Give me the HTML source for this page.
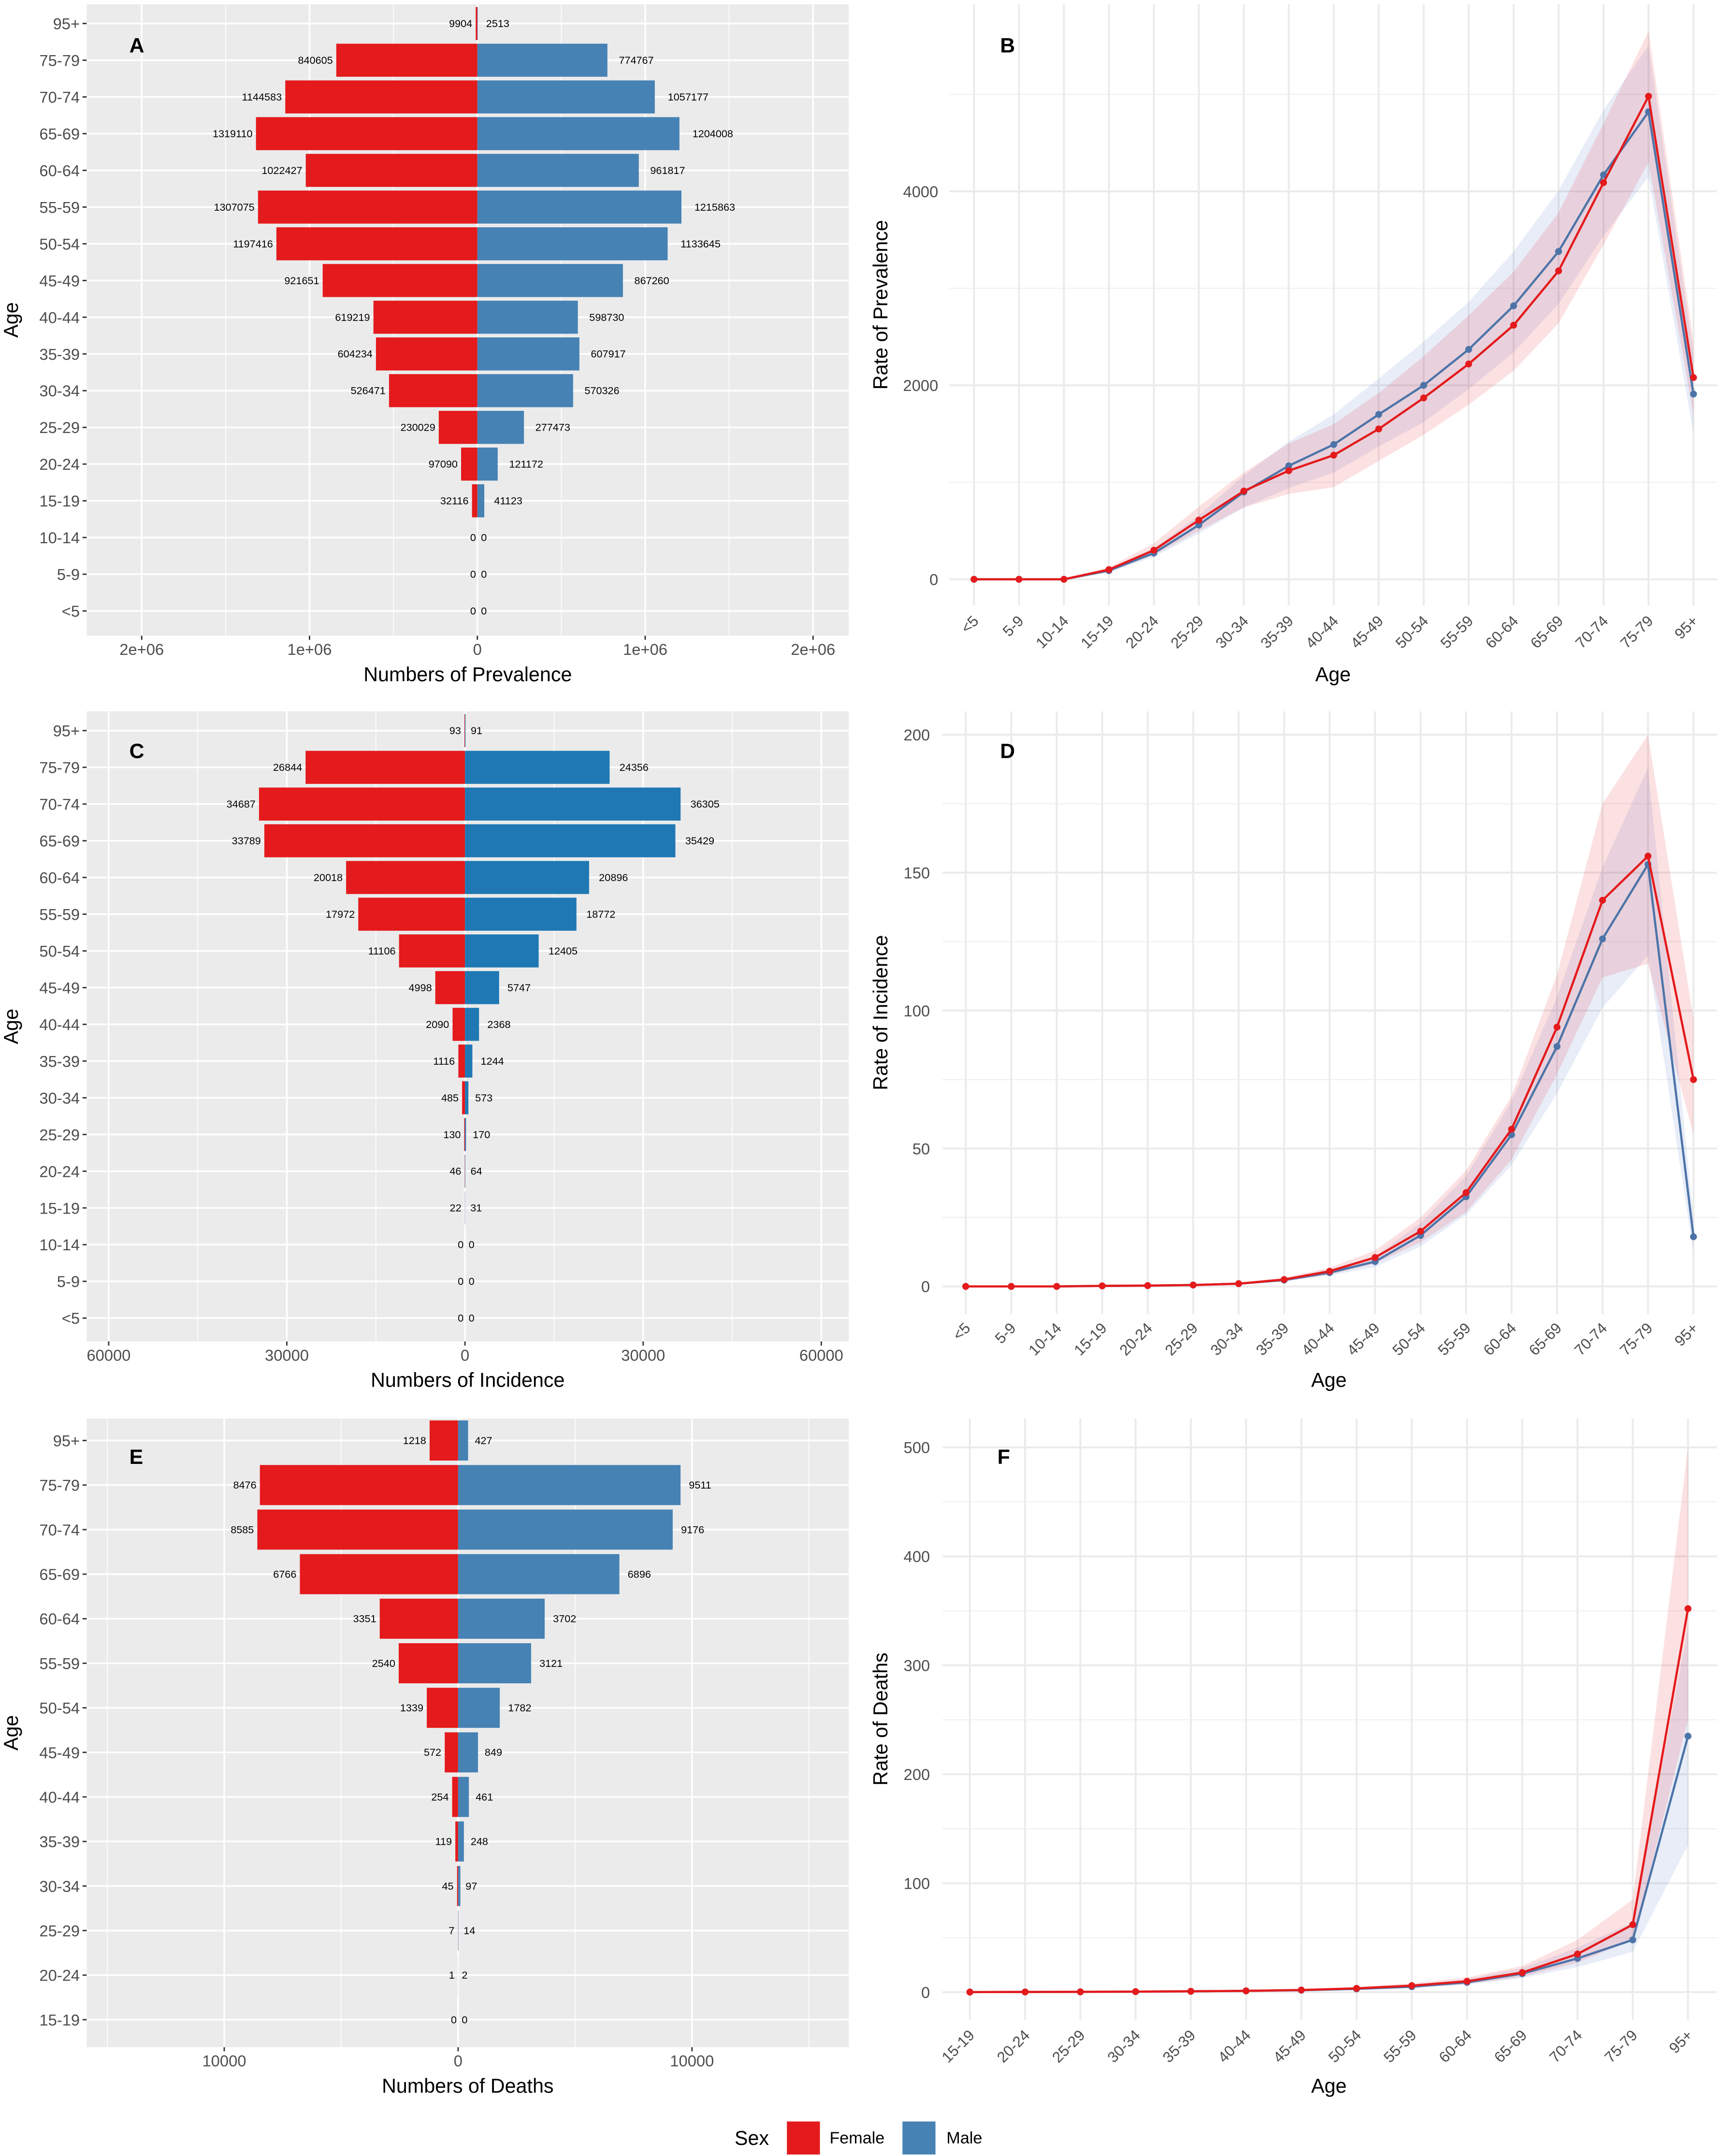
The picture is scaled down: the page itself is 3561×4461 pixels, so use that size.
<!DOCTYPE html>
<html><head><meta charset="utf-8"><style>
html,body{margin:0;padding:0;background:#fff;}
svg{display:block;font-family:"Liberation Sans",Arial,sans-serif;}
</style></head><body>
<svg id="fig" width="3561" height="4461" viewBox="0 0 1251 1567" xmlns="http://www.w3.org/2000/svg">
<rect width="1251" height="1567" fill="#fff"/>
</svg>
<script>
// ---------- data ----------
const ageRows17 = ["95+","75-79","70-74","65-69","60-64","55-59","50-54","45-49","40-44","35-39","30-34","25-29","20-24","15-19","10-14","5-9","<5"];
const ageRows14 = ["95+","75-79","70-74","65-69","60-64","55-59","50-54","45-49","40-44","35-39","30-34","25-29","20-24","15-19"];
const prevFemale = [9904,840605,1144583,1319110,1022427,1307075,1197416,921651,619219,604234,526471,230029,97090,32116,0,0,0];
const prevMale = [2513,774767,1057177,1204008,961817,1215863,1133645,867260,598730,607917,570326,277473,121172,41123,0,0,0];
const incFemale = [93,26844,34687,33789,20018,17972,11106,4998,2090,1116,485,130,46,22,0,0,0];
const incMale = [91,24356,36305,35429,20896,18772,12405,5747,2368,1244,573,170,64,31,0,0,0];
const deathFemale = [1218,8476,8585,6766,3351,2540,1339,572,254,119,45,7,1,0];
const deathMale = [427,9511,9176,6896,3702,3121,1782,849,461,248,97,14,2,0];

const ageCats17 = ["<5","5-9","10-14","15-19","20-24","25-29","30-34","35-39","40-44","45-49","50-54","55-59","60-64","65-69","70-74","75-79","95+"];
const ageCats14 = ["15-19","20-24","25-29","30-34","35-39","40-44","45-49","50-54","55-59","60-64","65-69","70-74","75-79","95+"];
const prevRateF = [0,0,0,100,300,610,910,1120,1280,1550,1870,2220,2620,3180,4090,4980,2080];
const prevRateFLo = [0,0,0,80,250,500,740,880,950,1220,1490,1800,2150,2640,3450,4300,1700];
const prevRateFHi = [0,0,0,125,370,750,1100,1400,1600,1920,2300,2720,3170,3780,4700,5650,2450];
const prevRateM = [0,0,0,90,270,560,900,1170,1390,1700,2000,2370,2820,3380,4170,4820,1910];
const prevRateMLo = [0,0,0,70,230,470,740,940,1100,1370,1620,1960,2340,2840,3540,4150,1500];
const prevRateMHi = [0,0,0,110,320,660,1070,1420,1700,2070,2450,2860,3380,4010,4840,5500,2320];
const incRateF = [0,0,0,0.2,0.3,0.5,1,2.5,5.5,10.5,20,34,57,94,140,156,75];
const incRateFLo = [0,0,0,0.1,0.2,0.4,0.8,1.9,4.3,8.3,16,27,46,77,112,117,55];
const incRateFHi = [0,0,0,0.3,0.4,0.6,1.3,3.2,6.8,13,25,42,69,113,175,200,97];
const incRateM = [0,0,0,0.2,0.3,0.5,1,2.3,5,9,18.5,32.5,55,87,126,153,18];
const incRateMLo = [0,0,0,0.1,0.2,0.4,0.8,1.8,4,7,14.5,26,44,70,101,120,12];
const incRateMHi = [0,0,0,0.3,0.4,0.6,1.3,2.9,6.2,11,23,40,67,105,152,188,25];
const deathRateF = [0.1,0.2,0.3,0.5,0.8,1.2,2,3.5,6,10,18,35,62,352];
const deathRateFLo = [0,0.1,0.2,0.4,0.6,0.9,1.5,2.6,4.5,7.5,14,27,48,250];
const deathRateFHi = [0.2,0.3,0.4,0.7,1.1,1.6,2.7,4.8,8.2,13.5,24,48,85,500];
const deathRateM = [0.1,0.2,0.3,0.5,0.8,1.2,1.8,3,5,9,17,31,48,235];
const deathRateMLo = [0,0.1,0.2,0.4,0.6,0.9,1.3,2.2,3.7,6.8,13,23,37,135];
const deathRateMHi = [0.2,0.3,0.4,0.7,1.1,1.6,2.4,4,6.7,12,22,41,64,335];

// ---------- helpers ----------
const NS = "http://www.w3.org/2000/svg";
const svg = document.getElementById("fig");
function mk(tag, attrs, parent, txt){
  const e = document.createElementNS(NS, tag);
  for (const k in attrs) e.setAttribute(k, attrs[k]);
  if (txt !== undefined) e.textContent = txt;
  (parent || svg).appendChild(e);
  return e;
}
const RED = "#E41A1C";
const MALE_LINE = "#4D74A8";

// ---------- pyramid ----------
function pyramid(o){
  const g = mk("g", {});
  
  
  const bg = mk("rect", {x:o.x0, y:o.y0, width:o.x1-o.x0, height:o.y1-o.y0, fill:"#EBEBEB"}, g);
  
  
  const xs = v => o.zero + v * o.pxPer;
  const n = o.rows.length;
  const ys = i => o.rowTop + i * (o.rowBot - o.rowTop) / (n - 1);
  const step = (o.rowBot - o.rowTop) / (n - 1);
  o.minor.forEach(v => mk("line", {x1:xs(v), x2:xs(v), y1:o.y0, y2:o.y1, stroke:"#fff", "stroke-width":0.6}, g));
  o.major.forEach(v => mk("line", {x1:xs(v), x2:xs(v), y1:o.y0, y2:o.y1, stroke:"#fff", "stroke-width":1.2}, g));
  o.rows.forEach((r, i) => mk("line", {x1:o.x0, x2:o.x1, y1:ys(i), y2:ys(i), stroke:"#fff", "stroke-width":1.2}, g));
  const bh = step * 0.9;
  o.rows.forEach((r, i) => {
    const f = o.female[i], m = o.male[i], y = ys(i);
    const bf = mk("rect", {x:xs(-f), y:y-bh/2, width:Math.max(xs(0)-xs(-f),0), height:bh, fill:RED}, g);
    
    
    const bm = mk("rect", {x:xs(0), y:y-bh/2, width:Math.max(xs(m)-xs(0),0), height:bh, fill:o.maleColor}, g);
    
    
    const sf = String(f), sm = String(m);
    const lf = mk("text", {x:xs(-f) - (f===0?1:2.5), y:y+2.6, "font-size":7.6, "text-anchor":"end", fill:"#000"}, g, sf);
    
    
    const lm = mk("text", {x:xs(m) + 1.5 + 0.27*sm.length*4.2, y:y+2.6, "font-size":7.6, "text-anchor":"start", fill:"#000"}, g, sm);
    
    
    mk("line", {x1:o.x0-3, x2:o.x0, y1:y, y2:y, stroke:"#333", "stroke-width":1}, g);
    const t = mk("text", {x:o.x0-5, y:y+4.2, "font-size":11.5, "text-anchor":"end", fill:"#4D4D4D"}, g, r);
    
    
  });
  o.ticks.forEach((v, i) => {
    mk("line", {x1:xs(v), x2:xs(v), y1:o.y1, y2:o.y1+3, stroke:"#333", "stroke-width":1}, g);
    const t = mk("text", {x:xs(v), y:o.y1+14, "font-size":11.5, "text-anchor":"middle", fill:"#4D4D4D"}, g, o.tickLabels[i]);
    
    
  });
  const xt = mk("text", {x:(o.x0+o.x1)/2, y:o.y1+33, "font-size":14.5, "text-anchor":"middle", fill:"#000"}, g, o.xTitle);
  
  
  const yt = mk("text", {x:0, y:0, "font-size":14.5, "text-anchor":"middle", fill:"#000", transform:`translate(13,${(o.y0+o.y1)/2}) rotate(-90)`}, g, "Age");
  
  
  const pl = mk("text", {x:o.letterX, y:o.letterY, "font-size":15, "font-weight":"bold", fill:"#000"}, g, o.letter);
  
  
}

// ---------- line ----------
function lineChart(o){
  const g = mk("g", {});
  
  
  const n = o.cats.length;
  const xs = i => o.cx0 + i * (o.cx1 - o.cx0) / (n - 1);
  const ys = v => o.zeroY - v * o.pxPer;
  o.minor.forEach(v => mk("line", {x1:o.x0, x2:o.x1, y1:ys(v), y2:ys(v), stroke:"#F0F0F0", "stroke-width":0.8}, g));
  o.major.forEach(v => mk("line", {x1:o.x0, x2:o.x1, y1:ys(v), y2:ys(v), stroke:"#EBEBEB", "stroke-width":1.4}, g));
  o.cats.forEach((c, i) => mk("line", {x1:xs(i), x2:xs(i), y1:o.y0, y2:o.y1, stroke:"#EBEBEB", "stroke-width":1.4}, g));
  const band = (lo, hi, col, nm) => {
    let d = "";
    lo.forEach((v, i) => d += (i ? "L" : "M") + xs(i) + "," + ys(v));
    for (let i = hi.length - 1; i >= 0; i--) d += "L" + xs(i) + "," + ys(hi[i]);
    const p = mk("path", {d:d + "Z", fill:col, "fill-opacity":0.13}, g);
    
    
  };
  band(o.mLo, o.mHi, "#4D74C8", 'ci-band-male');
  band(o.fLo, o.fHi, RED, 'ci-band-female');
  const line = (vals, col, nm) => {
    const pts = vals.map((v, i) => xs(i) + "," + ys(v)).join(" ");
    const l = mk("polyline", {points:pts, fill:"none", stroke:col, "stroke-width":1.6}, g);
    
    
    vals.forEach((v, i) => {
      const c = mk("circle", {cx:xs(i), cy:ys(v), r:2.5, fill:col}, g);
      
      
    });
  };
  line(o.m, MALE_LINE, 'male');
  line(o.f, RED, 'female');
  o.ticks.forEach(v => {
    const t = mk("text", {x:o.labX, y:ys(v)+4.2, "font-size":11.5, "text-anchor":"end", fill:"#4D4D4D"}, g, String(v));
    
    
  });
  o.cats.forEach((c, i) => {
    const t = mk("text", {x:0, y:0, "font-size":11, "text-anchor":"end", fill:"#4D4D4D", transform:`translate(${xs(i)+4},${o.labY}) rotate(-45)`}, g, c);
    
    
  });
  const xt = mk("text", {x:o.titleX, y:o.titleY, "font-size":14.5, "text-anchor":"middle", fill:"#000"}, g, "Age");
  
  
  const yt = mk("text", {x:0, y:0, "font-size":14.5, "text-anchor":"middle", fill:"#000", transform:`translate(645,${(o.y0+o.y1)/2}) rotate(-90)`}, g, o.yTitle);
  
  
  const pl = mk("text", {x:o.letterX, y:o.letterY, "font-size":15, "font-weight":"bold", fill:"#000"}, g, o.letter);
  
  
}

pyramid({name:"panel-a-prevalence-pyramid", x0:63, x1:617, y0:3, y1:462, zero:347, pxPer:122/1e6,
  rows:ageRows17, rowTop:17, rowBot:444, female:prevFemale, male:prevMale, maleColor:"#4682B4",
  major:[-2e6,-1e6,0,1e6,2e6], minor:[-1.5e6,-5e5,5e5,1.5e6],
  ticks:[-2e6,-1e6,0,1e6,2e6], tickLabels:["2e+06","1e+06","0","1e+06","2e+06"],
  xTitle:"Numbers of Prevalence", letter:"A", letterX:94, letterY:38});
pyramid({name:"panel-c-incidence-pyramid", x0:63, x1:617, y0:517, y1:975, zero:338, pxPer:129.5/30000,
  rows:ageRows17, rowTop:531, rowBot:958, female:incFemale, male:incMale, maleColor:"#1F78B4",
  major:[-60000,-30000,0,30000,60000], minor:[-45000,-15000,15000,45000],
  ticks:[-60000,-30000,0,30000,60000], tickLabels:["60000","30000","0","30000","60000"],
  xTitle:"Numbers of Incidence", letter:"C", letterX:94, letterY:551});
pyramid({name:"panel-e-deaths-pyramid", x0:63, x1:617, y0:1031, y1:1488, zero:333, pxPer:170/10000,
  rows:ageRows14, rowTop:1047, rowBot:1468, female:deathFemale, male:deathMale, maleColor:"#4682B4",
  major:[-10000,0,10000], minor:[-15000,-5000,5000,15000],
  ticks:[-10000,0,10000], tickLabels:["10000","0","10000"],
  xTitle:"Numbers of Deaths", letter:"E", letterX:94, letterY:1064});

lineChart({name:"panel-b-prevalence-rate", cats:ageCats17, cx0:708, cx1:1231, x0:690, x1:1248, y0:3, y1:440,
  zeroY:421, pxPer:(421-139)/4000, major:[0,2000,4000], minor:[1000,3000,5000], ticks:[0,2000,4000],
  f:prevRateF, fLo:prevRateFLo, fHi:prevRateFHi, m:prevRateM, mLo:prevRateMLo, mHi:prevRateMHi,
  labX:682, labY:452, titleX:969, titleY:495, yTitle:"Rate of Prevalence", letter:"B", letterX:727, letterY:38});
lineChart({name:"panel-d-incidence-rate", cats:ageCats17, cx0:702, cx1:1231, x0:685, x1:1248, y0:517, y1:955,
  zeroY:935, pxPer:(935-534)/200, major:[0,50,100,150,200], minor:[25,75,125,175], ticks:[0,50,100,150,200],
  f:incRateF, fLo:incRateFLo, fHi:incRateFHi, m:incRateM, mLo:incRateMLo, mHi:incRateMHi,
  labX:676, labY:966, titleX:966, titleY:1008, yTitle:"Rate of Incidence", letter:"D", letterX:727, letterY:551});
lineChart({name:"panel-f-deaths-rate", cats:ageCats14, cx0:705, cx1:1227, x0:685, x1:1248, y0:1031, y1:1468,
  zeroY:1448, pxPer:(1448-1052)/500, major:[0,100,200,300,400,500], minor:[50,150,250,350,450], ticks:[0,100,200,300,400,500],
  f:deathRateF, fLo:deathRateFLo, fHi:deathRateFHi, m:deathRateM, mLo:deathRateMLo, mHi:deathRateMHi,
  labX:676, labY:1480, titleX:966, titleY:1521, yTitle:"Rate of Deaths", letter:"F", letterX:725, letterY:1064});

// ---------- legend ----------
const lg = mk("g", {});


const lt = mk("text", {x:534, y:1559, "font-size":14.5, fill:"#000"}, lg, "Sex");


const k1 = mk("rect", {x:572, y:1542, width:24, height:24, fill:RED}, lg);


const t1 = mk("text", {x:603, y:1558, "font-size":12, fill:"#000"}, lg, "Female");


const k2 = mk("rect", {x:656, y:1542, width:24, height:24, fill:"#4682B4"}, lg);


const t2 = mk("text", {x:688, y:1558, "font-size":12, fill:"#000"}, lg, "Male");


</script>
</body></html>
